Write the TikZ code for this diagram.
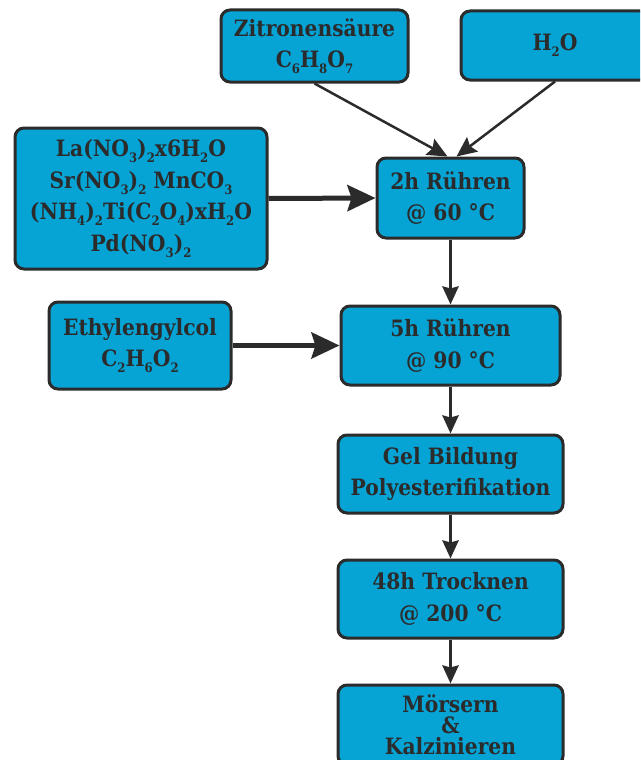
\documentclass[tikz,border=0pt]{standalone}
\usepackage{fontspec}
\setmainfont{DejaVu Serif}[FakeStretch=0.9]
\usetikzlibrary{arrows.meta}
\definecolor{boxfill}{HTML}{06A3D5}
\definecolor{ink}{HTML}{2B2B2B}
\newcommand{\sbs}[1]{\raisebox{-6pt}{\fontsize{13}{13}\selectfont #1}}
\begin{document}
\begin{tikzpicture}[x=1pt,y=-1pt,
  box/.style={draw=ink, line width=3pt, fill=boxfill, rounded corners=9pt, text=ink,
    font=\bfseries\fontsize{22.5}{31.5}\selectfont, align=center, inner sep=0pt},
  thinarrow/.style={draw=ink, line width=2.5pt, -{Stealth[length=20pt,width=18pt,inset=3pt]}},
  bigarrow/.style={draw=ink, line width=5pt, -{Stealth[length=28pt,width=26pt,inset=4pt]}},
  downarrow/.style={draw=ink, line width=3.5pt, -{Stealth[length=18pt,width=16pt,inset=2pt]}}]
\useasboundingbox (0,0) rectangle (640,760);
\clip (0,0) rectangle (640,760);
\node[box, minimum width=187pt, minimum height=72pt] (zit) at (314.5,46) {Zitronensäure\\C\sbs{6}H\sbs{8}O\sbs{7}};
\node[box, minimum width=188pt, minimum height=69pt] (water) at (555,45.5) {H\sbs{2}O};
\node[box, minimum width=252pt, minimum height=141pt] (salts) at (141,198.5) {La(NO\sbs{3})\sbs{2}x6H\sbs{2}O\\Sr(NO\sbs{3})\sbs{2} MnCO\sbs{3}\\(NH\sbs{4})\sbs{2}Ti(C\sbs{2}O\sbs{4})xH\sbs{2}O\\Pd(NO\sbs{3})\sbs{2}};
\node[box, minimum width=147pt, minimum height=80pt] (stir2) at (450.5,198) {2h Rühren\\@ 60 °C};
\node[box, minimum width=182pt, minimum height=87pt] (eg) at (140,345.5) {Ethylengylcol\\C\sbs{2}H\sbs{6}O\sbs{2}};
\node[box, minimum width=219pt, minimum height=79pt] (stir5) at (450.5,345.5) {5h Rühren\\@ 90 °C};
\node[box, minimum width=225pt, minimum height=78pt] (gel) at (450.5,474) {Gel Bildung\\Polyesterifikation};
\node[box, minimum width=225pt, minimum height=78pt] (dry) at (450.5,599) {48h Trocknen\\@ 200 °C};
\node[box, minimum width=225pt, minimum height=80pt, font=\bfseries\fontsize{22.5}{21}\selectfont] (calc) at (450.5,725) {Mörsern\\\&\\Kalzinieren};
\draw[thinarrow] (zit.south) -- ([xshift=-3pt]stir2.north);
\draw[thinarrow] ([xshift=0pt]water.south) -- ([xshift=6pt]stir2.north);
\draw[bigarrow] (salts.east) -- (stir2.west);
\draw[bigarrow] (eg.east) -- (stir5.west);
\draw[downarrow] (stir2) -- (stir5);
\draw[downarrow] (stir5) -- (gel);
\draw[downarrow] (gel) -- (dry);
\draw[downarrow] (dry) -- (calc);
\end{tikzpicture}
\end{document}
